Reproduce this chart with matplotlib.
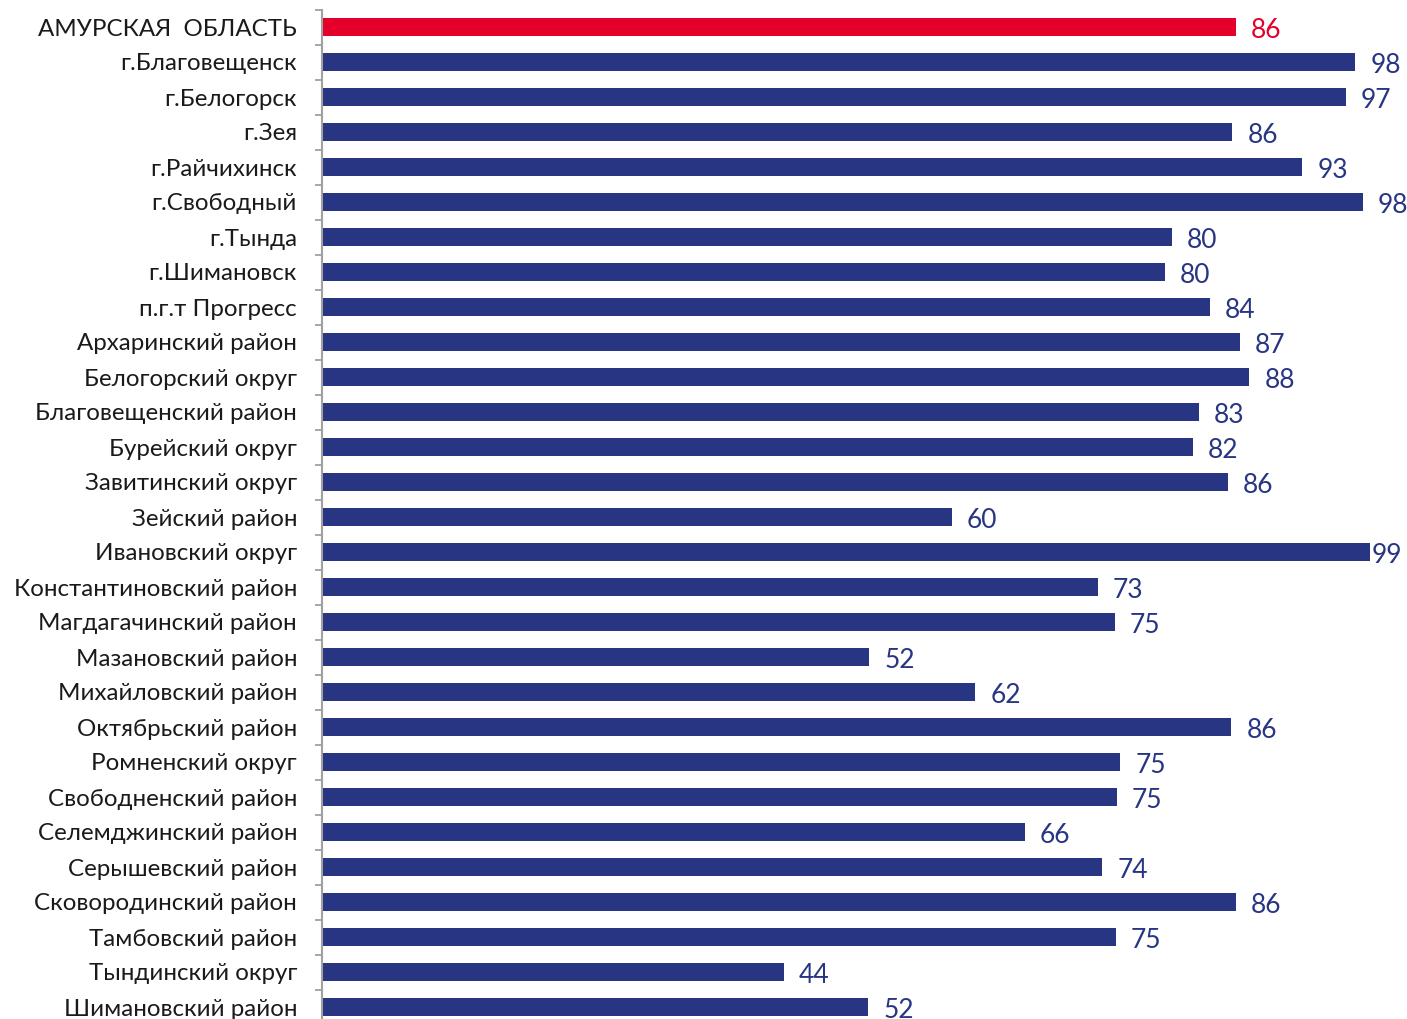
import matplotlib.pyplot as plt
import numpy as np

plt.rcParams['font.family'] = ['Lato', 'DejaVu Sans']

categories = ['АМУРСКАЯ  ОБЛАСТЬ', 'г.Благовещенск', 'г.Белогорск', 'г.Зея', 'г.Райчихинск',
              'г.Свободный', 'г.Тында', 'г.Шимановск', 'п.г.т Прогресс', 'Архаринский район',
              'Белогорский округ', 'Благовещенский район', 'Бурейский округ', 'Завитинский округ',
              'Зейский район', 'Ивановский округ', 'Константиновский район', 'Магдагачинский район',
              'Мазановский район', 'Михайловский район', 'Октябрьский район', 'Ромненский округ',
              'Свободненский район', 'Селемджинский район', 'Серышевский район',
              'Сковородинский район', 'Тамбовский район', 'Тындинский округ', 'Шимановский район']
values = [86.3, 97.6, 96.7, 86.0, 92.6, 98.3, 80.3, 79.6, 83.9, 86.7,
          87.6, 82.8, 82.3, 85.6, 59.5, 99.0, 73.3, 74.9, 51.7, 61.7,
          85.9, 75.4, 75.1, 66.4, 73.7, 86.3, 75.0, 43.6, 51.6]

navy = '#283583'
red = '#E4002B'
colors = [red] + [navy] * (len(values) - 1)

fig = plt.figure(figsize=(14.07, 10.19), dpi=100)
ax = fig.add_axes([322 / 1407, -5.5 / 1019, 1058.6 / 1407, 1015 / 1019])

y = np.arange(len(categories))
ax.barh(y, values, height=0.52, color=colors)

ax.set_xlim(0, 100)
ax.set_ylim(len(categories) - 0.5, -0.5)

for i, v in enumerate(values):
    off = 2 if v >= 99 else 15
    ax.annotate(f'{v:.0f}', (v, i), xytext=(off * 0.72, -2.5), textcoords='offset points',
                va='center', ha='left', fontsize=19, color=colors[i],
                annotation_clip=False)

ax.set_yticks(y)
ax.set_yticklabels(categories, fontsize=17.4, color='#1a1a1a')
ax.set_yticks(np.arange(len(categories) + 1) - 0.5, minor=True)
ax.tick_params(axis='y', which='major', length=0, pad=18)
ax.tick_params(axis='y', which='minor', length=5, width=1.3, color='#a0a0a0')
ax.set_xticks([])

for s in ['top', 'right', 'bottom']:
    ax.spines[s].set_visible(False)
ax.spines['left'].set_color('#a0a0a0')
ax.spines['left'].set_linewidth(1.5)

fig.savefig('out.png', dpi=100)
